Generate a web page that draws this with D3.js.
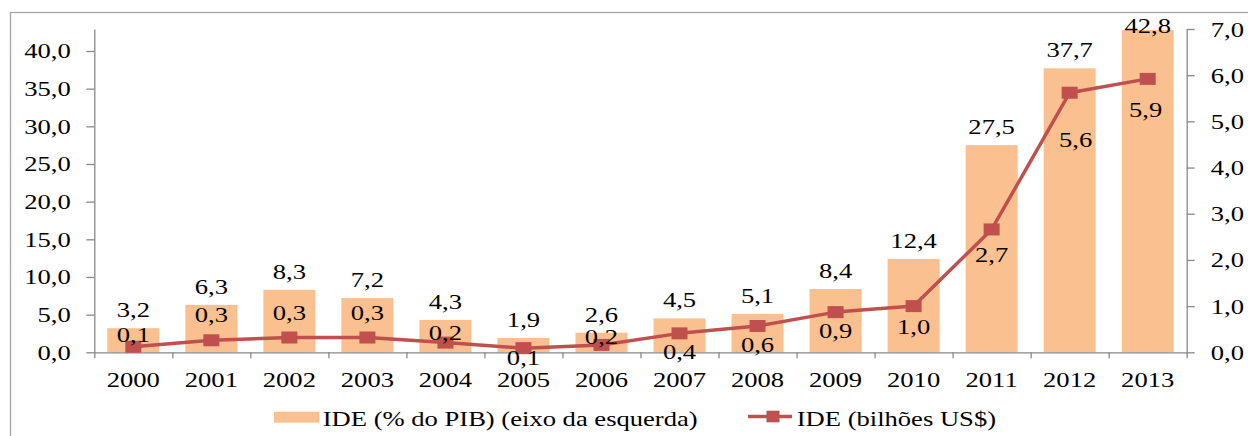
<!DOCTYPE html>
<html>
<head>
<meta charset="utf-8">
<script src="https://cdn.jsdelivr.net/npm/d3@7"></script>
<style>
  html, body { margin: 0; padding: 0; background: #fff; }
  svg { display: block; }
  text { font-family: "Liberation Serif", "Times New Roman", serif; font-size: 20px; fill: #000; }
</style>
</head>
<body>
<svg id="chart" width="1248" height="436"></svg>
<script>
// ---- data ----
const years = ["2000","2001","2002","2003","2004","2005","2006","2007","2008","2009","2010","2011","2012","2013"];
const idePib = [3.2, 6.3, 8.3, 7.2, 4.3, 1.9, 2.6, 4.5, 5.1, 8.4, 12.4, 27.5, 37.7, 42.8];
const ideUsd = [0.12, 0.26, 0.32, 0.32, 0.21, 0.09, 0.16, 0.41, 0.57, 0.87, 1.00, 2.66, 5.62, 5.92];
const leftTicks = [0, 5, 10, 15, 20, 25, 30, 35, 40];
const rightTicks = [0, 1, 2, 3, 4, 5, 6, 7];
const seriesNames = ["IDE (% do PIB) (eixo da esquerda)", "IDE (bilhões US$)"];

// ---- layout (not data) ----
const lineLabelOffset = [-4.3, -18.7, -17.3, -17.3, -2.7, 16.7, -1, 25.7, 26.3, 26, 28, 33, 54, 37.7];
const lineLabelDx = [0, 0, 0, 0, 0, 0, 0, 0, 0, 0, 0, 0, 6, -2];
const SX = 1.33;
const barColor = "#FAC090", lineColor = "#C0504D", axisColor = "#898989";

const loc = d3.formatLocale({decimal: ",", thousands: ".", grouping: [3], currency: ["", ""]});
const fmt = loc.format(".1f");

const svg = d3.select("#chart");
const X0 = 94.3, X1 = 1186.7, Y0 = 352.3, Y1 = 29;

// outer border
svg.append("rect").attr("x", 10.5).attr("y", 12.5).attr("width", 1400).attr("height", 600)
  .attr("fill", "none").attr("stroke", "#a6a6a6").attr("stroke-width", 1.3);

const x = d3.scaleBand().domain(years).range([X0, X1]).paddingInner(1/3).paddingOuter(1/6);
const xb = d3.scaleLinear().domain([0, years.length]).range([X0, X1]);
const yL = d3.scaleLinear().domain([0, 42.92]).range([Y0, Y1]);
const yR = d3.scaleLinear().domain([0, 7]).range([Y0, Y1]);

function stxt(g, px, py, s, anchor) {
  return g.append("text").attr("transform", `translate(${px},${py}) scale(${SX},1)`)
    .attr("text-anchor", anchor || "middle").text(s);
}

// bars
svg.append("g").selectAll("rect").data(idePib).join("rect")
  .attr("x", (d, i) => x(years[i])).attr("width", x.bandwidth())
  .attr("y", d => yL(d)).attr("height", d => Y0 - yL(d))
  .attr("fill", barColor);

// axes
function styleAxis(g) {
  g.attr("font-family", null).attr("font-size", null);
  g.selectAll(".domain").attr("stroke", axisColor).attr("stroke-width", 1.3);
  g.selectAll(".tick line").attr("stroke", axisColor).attr("stroke-width", 1.3);
}
const gL = svg.append("g").attr("transform", `translate(${X0},0)`)
  .call(d3.axisLeft(yL).tickValues(leftTicks).tickFormat(fmt).tickSize(8).tickSizeOuter(0));
styleAxis(gL);
gL.selectAll(".tick text").attr("x", null).attr("dy", null).attr("fill", "#000")
  .attr("transform", `translate(-23.6,7) scale(${SX},1)`);

const gR = svg.append("g").attr("transform", `translate(${X1},0)`)
  .call(d3.axisRight(yR).tickValues(rightTicks).tickFormat(fmt).tickSize(8).tickSizeOuter(0));
styleAxis(gR);
gR.selectAll(".tick text").attr("x", null).attr("dy", null).attr("fill", "#000")
  .attr("transform", `translate(24,7) scale(${SX},1)`);

const gB = svg.append("g").attr("transform", `translate(0,${Y0})`)
  .call(d3.axisBottom(xb).tickValues(d3.range(years.length + 1)).tickFormat("").tickSize(6).tickSizeOuter(0));
styleAxis(gB);
gB.selectAll(".tick text").remove();
const gBL = svg.append("g").attr("transform", `translate(0,${Y0})`)
  .call(d3.axisBottom(x).tickSize(0));
gBL.attr("font-family", null).attr("font-size", null);
gBL.select(".domain").remove();
gBL.selectAll(".tick text").attr("y", null).attr("dy", null).attr("fill", "#000")
  .attr("transform", `translate(0,34.5) scale(${SX},1)`);

// line
const cx = i => x(years[i]) + x.bandwidth() / 2;
svg.append("path").datum(ideUsd)
  .attr("d", d3.line().x((d, i) => cx(i)).y(d => yR(d)))
  .attr("fill", "none").attr("stroke", lineColor).attr("stroke-width", 3.5).attr("stroke-linejoin", "round");
svg.append("g").selectAll("rect").data(ideUsd).join("rect")
  .attr("x", (d, i) => cx(i) - 8).attr("y", d => yR(d) - 6)
  .attr("width", 16).attr("height", 12).attr("fill", lineColor);

// bar labels
const gBarLab = svg.append("g");
idePib.forEach((d, i) => {
  stxt(gBarLab, cx(i), Math.max(yL(d) - 11, 33), fmt(d));
});
// line labels
const gLineLab = svg.append("g");
ideUsd.forEach((d, i) => {
  stxt(gLineLab, cx(i) + lineLabelDx[i], yR(d) + lineLabelOffset[i], fmt(d));
});

// legend
const lg = svg.append("g");
lg.append("rect").attr("x", 274).attr("y", 411.7).attr("width", 45.3).attr("height", 11).attr("fill", barColor);
stxt(lg, 322.7, 426, seriesNames[0], "start");
lg.append("line").attr("x1", 748).attr("x2", 792).attr("y1", 416.5).attr("y2", 416.5)
  .attr("stroke", lineColor).attr("stroke-width", 3.5);
lg.append("rect").attr("x", 766.5).attr("y", 410.7).attr("width", 13).attr("height", 11.6).attr("fill", lineColor);
stxt(lg, 796.7, 426, seriesNames[1], "start");
</script>
</body>
</html>
